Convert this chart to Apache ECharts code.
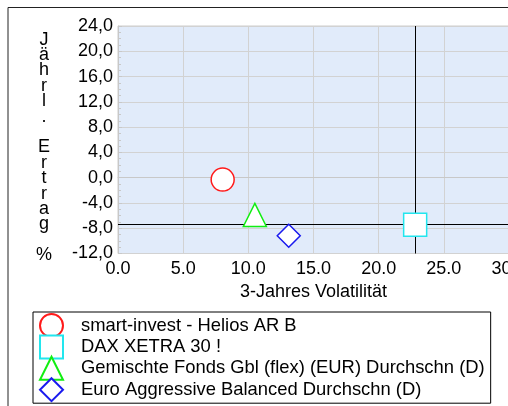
<!DOCTYPE html>
<html>
<head>
<meta charset="utf-8">
<script src="https://cdn.jsdelivr.net/npm/echarts@6/dist/echarts.min.js"></script>
<style>
  html, body { margin: 0; padding: 0; background: #fff; }
  #chart { width: 508px; height: 406px; }
</style>
</head>
<body>
<div id="chart"></div>
<script>
// funds: [volatility %, annual return %]
const seriesNames = [
  'smart-invest - Helios AR B',
  'DAX XETRA 30 !',
  'Gemischte Fonds Gbl (flex) (EUR) Durchschn (D)',
  'Euro Aggressive Balanced Durchschn (D)'
]
const volatility = [8.03, 22.8, 10.5, 13.1]
const yearlyReturn = [-0.3, -7.45, -5.9, -9.2]
const symbols = ['circle', 'rect', 'triangle', 'diamond']
const colors = ['#ff1a1a', '#22e6ee', '#11ee11', '#1a1aee']

// reference cross through the index
const refX = 22.8
const refY = -7.45

// y axis title, one letter per line
const yTitle = ['J', 'ä', 'h', 'r', 'l', '.', ' ', 'E', 'r', 't', 'r', 'a', 'g', ' ', '%']

const font = "'Liberation Sans', Arial, Helvetica, sans-serif"

const chart = echarts.init(document.getElementById('chart'), null, { renderer: 'canvas' })

const option = {
  backgroundColor: '#fff',
  animation: false,
  textStyle: { fontFamily: font, color: '#000' },
  graphic: [
    {
      type: 'rect',
      z: -10,
      shape: { x: 8, y: 7.5, width: 620, height: 520 },
      style: { fill: 'none', stroke: '#222', lineWidth: 1 },
      silent: true
    },
    {
      type: 'text',
      x: 44,
      y: 32,
      silent: true,
      style: {
        text: yTitle.join('\n'),
        fontFamily: font,
        fontSize: 18,
        lineHeight: 15.4,
        fill: '#000',
        align: 'center',
        verticalAlign: 'top'
      }
    }
  ],
  grid: {
    left: 118,
    top: 26,
    right: -1,
    bottom: 152.5,
    outerBoundsMode: 'none',
    containLabel: false,
    show: true,
    backgroundColor: '#e1ebfa',
    borderColor: '#cccccc',
    borderWidth: 1
  },
  legend: {
    orient: 'vertical',
    left: 33,
    top: 312,
    height: 200,
    padding: [1, 6, 1, 6],
    itemWidth: 23,
    itemHeight: 23,
    itemGap: -3.6,
    borderColor: '#000',
    borderWidth: 1,
    borderRadius: 0,
    data: seriesNames,
    textStyle: { fontSize: 18.4, lineHeight: 20, fontFamily: font, color: '#000', padding: [0, 0, 0, 13] }
  },
  xAxis: {
    type: 'value',
    min: 0,
    max: 30,
    interval: 5,
    name: '3-Jahres Volatilität',
    nameLocation: 'middle',
    nameGap: 28,
    nameTextStyle: { fontSize: 18, fontFamily: font, color: '#000' },
    axisLine: { show: true, lineStyle: { color: '#c8c8c8' } },
    axisTick: { show: false },
    axisLabel: {
      fontSize: 18,
      color: '#000',
      margin: 7,
      formatter: (v) => v.toFixed(1)
    },
    splitLine: { show: true, lineStyle: { color: '#d2d2d2', width: 1 } }
  },
  yAxis: {
    type: 'value',
    min: -12,
    max: 24,
    interval: 4,
    axisLine: { show: true, lineStyle: { color: '#c8c8c8' } },
    axisTick: { show: true, inside: true, length: 4, lineStyle: { color: '#c8c8c8' } },
    minorTick: { show: true, splitNumber: 4, length: 3, lineStyle: { color: '#c8c8c8' } },
    axisLabel: {
      fontSize: 18,
      color: '#000',
      margin: 5,
      formatter: (v) => v.toFixed(1).replace('.', ',')
    },
    splitLine: { show: true, lineStyle: { color: '#d2d2d2', width: 1 } }
  },
  series: [
    {
      name: 'ref',
      type: 'scatter',
      data: [],
      z: 1,
      silent: true,
      markLine: {
        silent: true,
        symbol: 'none',
        animation: false,
        label: { show: false },
        lineStyle: { color: '#000', width: 1, type: 'solid' },
        data: [{ xAxis: refX }, { yAxis: refY }]
      }
    }
  ].concat(seriesNames.map((name, i) => ({
    name: name,
    type: 'scatter',
    z: 5,
    symbol: symbols[i],
    symbolSize: 23,
    data: [[volatility[i], yearlyReturn[i]]],
    itemStyle: { color: '#fff', borderColor: colors[i], borderWidth: 1.5, opacity: 1 }
  })))
}

chart.setOption(option)
</script>
</body>
</html>
